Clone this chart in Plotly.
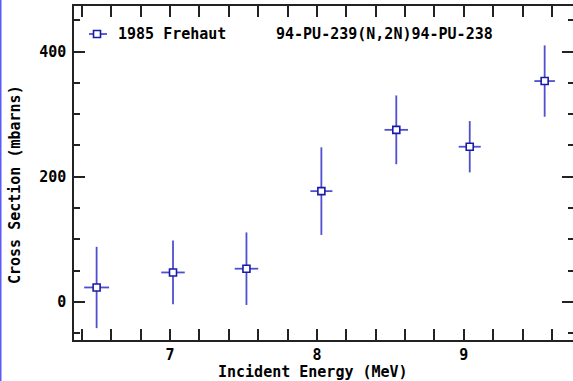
import plotly.graph_objects as go

# Data
energy = [6.50, 7.02, 7.52, 8.03, 8.54, 9.04, 9.55]          # MeV
energy_err = [0.085, 0.08, 0.08, 0.075, 0.08, 0.075, 0.07]   # MeV
xs = [23, 47, 53, 177, 275, 248, 353]                        # mbarns
xs_err = [65, 51, 58, 70, 55, 41, 57]                        # mbarns

series_name = "1985 Frehaut"
reaction = "94-PU-239(N,2N)94-PU-238"
x_title = "Incident Energy (MeV)"
y_title = "Cross Section (mbarns)"

W, H = 573, 381
L, R, T, B = 74, 0, 6, 41
pw, ph = W - L - R, H - T - B

def px(x):
    return (x - L) / pw

def py(y):
    return (H - B - y) / ph

FONT = "DejaVu Sans Mono"
bar_col = "#4f4fd0"
mk_col = "#1a1aa8"
ax_col = "#222"

fig = go.Figure()
fig.add_trace(go.Scatter(
    x=energy, y=xs, mode="markers", name=series_name, showlegend=False,
    marker=dict(symbol="square", size=7, color="white",
                line=dict(color=mk_col, width=1.6)),
    error_x=dict(type="data", array=energy_err, color=bar_col, thickness=1.8, width=0),
    error_y=dict(type="data", array=xs_err, color=bar_col, thickness=1.8, width=0),
))
# empty trace so the right-hand tick axis is drawn
fig.add_trace(go.Scatter(x=[], y=[], yaxis="y2", showlegend=False, hoverinfo="skip"))

tick_font = dict(family=FONT, size=15, color="black", weight="bold")
y_range = [-61, 473]

fig.update_layout(
    xaxis=dict(
        range=[6.346, 9.743], dtick=1, tick0=0,
        showline=True, linecolor=ax_col, linewidth=1.5, mirror="allticks",
        ticks="inside", ticklen=11, tickwidth=1.5, tickcolor=ax_col,
        showgrid=False, zeroline=False, tickfont=tick_font,
        minor=dict(dtick=0.2, tick0=0, ticks="inside", ticklen=6,
                   tickwidth=1.5, tickcolor=ax_col),
    ),
    yaxis=dict(
        range=y_range, dtick=200, tick0=0,
        showline=True, linecolor=ax_col, linewidth=1.5, mirror=False,
        ticks="inside", ticklen=11, tickwidth=1.5, tickcolor=ax_col,
        showgrid=False, zeroline=False, tickfont=tick_font,
        ticklabelstandoff=3,
        minor=dict(dtick=50, tick0=0, ticks="inside", ticklen=6,
                   tickwidth=1.5, tickcolor=ax_col),
    ),
    yaxis2=dict(
        range=y_range, dtick=200, tick0=0, overlaying="y", side="right", anchor="x",
        showline=False, showticklabels=False,
        ticks="inside", ticklen=11, tickwidth=1.5, tickcolor=ax_col,
        showgrid=False, zeroline=False,
        minor=dict(dtick=50, tick0=0, ticks="inside", ticklen=5,
                   tickwidth=1.5, tickcolor=ax_col),
    ),
)

# Manual legend entry and title text
lx, ly = 97, 34
fig.add_shape(type="line", xref="paper", yref="paper",
              x0=px(89), x1=px(107), y0=py(ly), y1=py(ly),
              line=dict(color=bar_col, width=1.8))
fig.add_shape(type="rect", xref="paper", yref="paper",
              x0=px(lx - 3.5), x1=px(lx + 3.5), y0=py(ly + 3.5), y1=py(ly - 3.5),
              line=dict(color=mk_col, width=1.6), fillcolor="white")

txt_font = dict(family=FONT, size=15, color="black", weight="bold")
fig.add_annotation(text=series_name, xref="paper", yref="paper",
                   x=px(116), y=py(ly), xanchor="left", yanchor="middle",
                   showarrow=False, font=txt_font)
fig.add_annotation(text=reaction, xref="paper", yref="paper",
                   x=px(274), y=py(ly), xanchor="left", yanchor="middle",
                   showarrow=False, font=txt_font)
fig.add_annotation(text=x_title, xref="paper", yref="paper",
                   x=px(313), y=py(372), xanchor="center", yanchor="middle",
                   showarrow=False, font=txt_font)
fig.add_annotation(text=y_title, xref="paper", yref="paper",
                   x=px(15), y=py(185), xanchor="center", yanchor="middle",
                   textangle=-90, showarrow=False, font=txt_font)

# blue strip at the left edge of the image
fig.add_shape(type="line", xref="paper", yref="paper",
              x0=px(0.75), x1=px(0.75), y0=py(0), y1=py(H),
              line=dict(color="#5a5aff", width=1.5))

fig.update_layout(
    width=W, height=H, margin=dict(l=L, r=R, t=T, b=B, pad=0),
    paper_bgcolor="white", plot_bgcolor="white", showlegend=False,
)

fig.write_html("out.html")
